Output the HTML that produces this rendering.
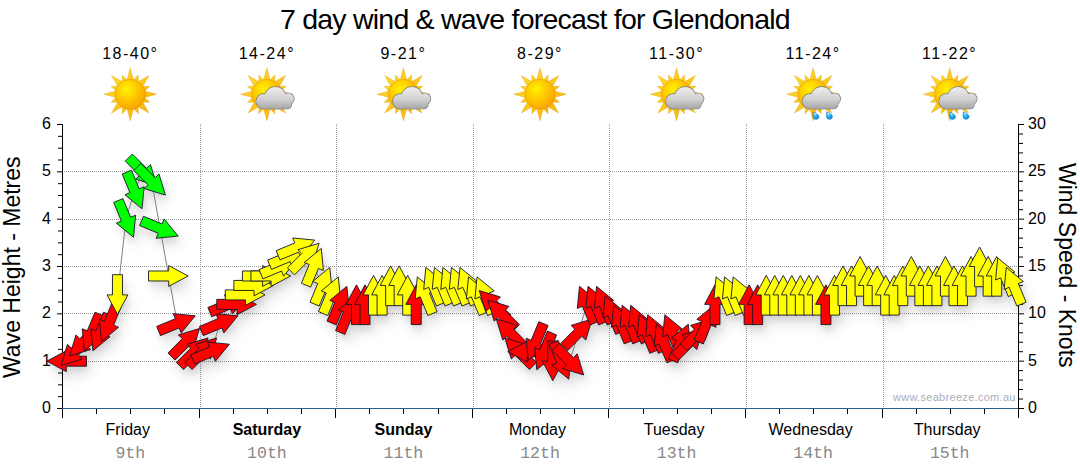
<!DOCTYPE html>
<html><head><meta charset="utf-8">
<style>
html,body{margin:0;padding:0;background:#fff;width:1080px;height:475px;overflow:hidden;position:relative;font-family:"Liberation Sans",sans-serif;}
svg{position:absolute;left:0;top:0;}
.t{position:absolute;left:280px;top:3px;font-size:28.5px;letter-spacing:-0.78px;white-space:nowrap;color:#000;}
.yl{position:absolute;left:20px;width:31px;text-align:right;font-size:16px;line-height:20px;color:#000;}
.yr{position:absolute;left:1028px;font-size:16px;line-height:20px;color:#000;}
.dl{position:absolute;top:420px;width:120px;text-align:center;font-size:16px;line-height:20px;color:#000;}
.dl.b{font-weight:bold;}
.dt{position:absolute;top:444px;width:120px;text-align:center;font-family:"Liberation Mono",monospace;font-size:16.5px;line-height:20px;color:#888;}
.tp{position:absolute;top:44px;width:120px;text-align:center;font-size:16px;letter-spacing:1.5px;line-height:20px;color:#000;}
.ax{position:absolute;font-size:23px;line-height:26px;white-space:nowrap;color:#000;}
.wm{position:absolute;left:893px;top:390px;font-size:11px;line-height:14px;color:#a9aebd;letter-spacing:0.3px;white-space:nowrap;}
</style></head><body>
<div class="t">7 day wind &amp; wave forecast for Glendonald</div>
<div class="yl" style="top:398.0px">0</div>
<div class="yl" style="top:350.7px">1</div>
<div class="yl" style="top:303.3px">2</div>
<div class="yl" style="top:256.0px">3</div>
<div class="yl" style="top:208.7px">4</div>
<div class="yl" style="top:161.3px">5</div>
<div class="yl" style="top:114.0px">6</div>
<div class="yr" style="top:398.0px">0</div>
<div class="yr" style="top:350.7px">5</div>
<div class="yr" style="top:303.3px">10</div>
<div class="yr" style="top:256.0px">15</div>
<div class="yr" style="top:208.7px">20</div>
<div class="yr" style="top:161.3px">25</div>
<div class="yr" style="top:114.0px">30</div>
<div class="dl" style="left:67.8px">Friday</div>
<div class="dt" style="left:70.3px">9th</div>
<div class="tp" style="left:70.3px">18-40°</div>
<div class="dl b" style="left:206.9px">Saturday</div>
<div class="dt" style="left:206.9px">10th</div>
<div class="tp" style="left:206.9px">14-24°</div>
<div class="dl b" style="left:343.4px">Sunday</div>
<div class="dt" style="left:343.4px">11th</div>
<div class="tp" style="left:343.4px">9-21°</div>
<div class="dl" style="left:477.5px">Monday</div>
<div class="dt" style="left:480.0px">12th</div>
<div class="tp" style="left:480.0px">8-29°</div>
<div class="dl" style="left:614.1px">Tuesday</div>
<div class="dt" style="left:616.6px">13th</div>
<div class="tp" style="left:616.6px">11-30°</div>
<div class="dl" style="left:750.6px">Wednesday</div>
<div class="dt" style="left:753.1px">14th</div>
<div class="tp" style="left:753.1px">11-24°</div>
<div class="dl" style="left:887.2px">Thursday</div>
<div class="dt" style="left:889.7px">15th</div>
<div class="tp" style="left:889.7px">11-22°</div>
<div class="ax" style="left:-98px;top:255px;transform:rotate(-90deg);width:220px;text-align:center">Wave Height - Metres</div>
<div class="ax" style="left:965px;top:252px;transform:rotate(90deg);width:204px;text-align:center">Wind Speed - Knots</div>
<div class="wm">www.seabreeze.com.au</div>
<svg width="1080" height="475" viewBox="0 0 1080 475">
<defs>
<filter id="sh" x="-40%" y="-40%" width="180%" height="180%">
<feGaussianBlur in="SourceAlpha" stdDeviation="3" result="b1"/>
<feOffset in="b1" dx="2" dy="5" result="o1"/>
<feComponentTransfer in="o1" result="c1"><feFuncA type="linear" slope="0.09"/></feComponentTransfer>
<feGaussianBlur in="SourceAlpha" stdDeviation="7" result="b2"/>
<feOffset in="b2" dx="4" dy="9" result="o2"/>
<feComponentTransfer in="o2" result="c2"><feFuncA type="linear" slope="0.11"/></feComponentTransfer>
<feMerge><feMergeNode in="c2"/><feMergeNode in="c1"/></feMerge>
</filter>
</defs>
<line x1="62" y1="361.5" x2="1018" y2="361.5" stroke="#9a9a9a" stroke-width="1" stroke-dasharray="1 1"/>
<line x1="62" y1="313.5" x2="1018" y2="313.5" stroke="#9a9a9a" stroke-width="1" stroke-dasharray="1 1"/>
<line x1="62" y1="266.5" x2="1018" y2="266.5" stroke="#9a9a9a" stroke-width="1" stroke-dasharray="1 1"/>
<line x1="62" y1="219.5" x2="1018" y2="219.5" stroke="#9a9a9a" stroke-width="1" stroke-dasharray="1 1"/>
<line x1="62" y1="171.5" x2="1018" y2="171.5" stroke="#9a9a9a" stroke-width="1" stroke-dasharray="1 1"/>
<line x1="200.5" y1="124" x2="200.5" y2="408" stroke="#9a9a9a" stroke-width="1" stroke-dasharray="1 1"/>
<line x1="336.5" y1="124" x2="336.5" y2="408" stroke="#9a9a9a" stroke-width="1" stroke-dasharray="1 1"/>
<line x1="473.5" y1="124" x2="473.5" y2="408" stroke="#9a9a9a" stroke-width="1" stroke-dasharray="1 1"/>
<line x1="609.5" y1="124" x2="609.5" y2="408" stroke="#9a9a9a" stroke-width="1" stroke-dasharray="1 1"/>
<line x1="746.5" y1="124" x2="746.5" y2="408" stroke="#9a9a9a" stroke-width="1" stroke-dasharray="1 1"/>
<line x1="883.5" y1="124" x2="883.5" y2="408" stroke="#9a9a9a" stroke-width="1" stroke-dasharray="1 1"/>
<line x1="62.5" y1="124" x2="62.5" y2="418" stroke="#000" stroke-width="1"/>
<line x1="1018.5" y1="124" x2="1018.5" y2="409" stroke="#000" stroke-width="1"/>
<line x1="57" y1="124.5" x2="62" y2="124.5" stroke="#000" stroke-width="1"/>
<line x1="58" y1="136.33333333333334" x2="62" y2="136.33333333333334" stroke="#000" stroke-width="1"/>
<line x1="58" y1="148.16666666666666" x2="62" y2="148.16666666666666" stroke="#000" stroke-width="1"/>
<line x1="58" y1="160.0" x2="62" y2="160.0" stroke="#000" stroke-width="1"/>
<line x1="57" y1="171.83333333333334" x2="62" y2="171.83333333333334" stroke="#000" stroke-width="1"/>
<line x1="58" y1="183.66666666666669" x2="62" y2="183.66666666666669" stroke="#000" stroke-width="1"/>
<line x1="58" y1="195.5" x2="62" y2="195.5" stroke="#000" stroke-width="1"/>
<line x1="58" y1="207.33333333333334" x2="62" y2="207.33333333333334" stroke="#000" stroke-width="1"/>
<line x1="57" y1="219.16666666666669" x2="62" y2="219.16666666666669" stroke="#000" stroke-width="1"/>
<line x1="58" y1="231.0" x2="62" y2="231.0" stroke="#000" stroke-width="1"/>
<line x1="58" y1="242.83333333333334" x2="62" y2="242.83333333333334" stroke="#000" stroke-width="1"/>
<line x1="58" y1="254.66666666666669" x2="62" y2="254.66666666666669" stroke="#000" stroke-width="1"/>
<line x1="57" y1="266.5" x2="62" y2="266.5" stroke="#000" stroke-width="1"/>
<line x1="58" y1="278.33333333333337" x2="62" y2="278.33333333333337" stroke="#000" stroke-width="1"/>
<line x1="58" y1="290.1666666666667" x2="62" y2="290.1666666666667" stroke="#000" stroke-width="1"/>
<line x1="58" y1="302.0" x2="62" y2="302.0" stroke="#000" stroke-width="1"/>
<line x1="57" y1="313.83333333333337" x2="62" y2="313.83333333333337" stroke="#000" stroke-width="1"/>
<line x1="58" y1="325.6666666666667" x2="62" y2="325.6666666666667" stroke="#000" stroke-width="1"/>
<line x1="58" y1="337.5" x2="62" y2="337.5" stroke="#000" stroke-width="1"/>
<line x1="58" y1="349.33333333333337" x2="62" y2="349.33333333333337" stroke="#000" stroke-width="1"/>
<line x1="57" y1="361.1666666666667" x2="62" y2="361.1666666666667" stroke="#000" stroke-width="1"/>
<line x1="58" y1="373.0" x2="62" y2="373.0" stroke="#000" stroke-width="1"/>
<line x1="58" y1="384.83333333333337" x2="62" y2="384.83333333333337" stroke="#000" stroke-width="1"/>
<line x1="58" y1="396.6666666666667" x2="62" y2="396.6666666666667" stroke="#000" stroke-width="1"/>
<line x1="57" y1="408.5" x2="62" y2="408.5" stroke="#000" stroke-width="1"/>
<line x1="1019" y1="124.5" x2="1024" y2="124.5" stroke="#000" stroke-width="1"/>
<line x1="1019" y1="133.96666666666667" x2="1023" y2="133.96666666666667" stroke="#000" stroke-width="1"/>
<line x1="1019" y1="143.43333333333334" x2="1023" y2="143.43333333333334" stroke="#000" stroke-width="1"/>
<line x1="1019" y1="152.9" x2="1023" y2="152.9" stroke="#000" stroke-width="1"/>
<line x1="1019" y1="162.36666666666667" x2="1023" y2="162.36666666666667" stroke="#000" stroke-width="1"/>
<line x1="1019" y1="171.83333333333334" x2="1024" y2="171.83333333333334" stroke="#000" stroke-width="1"/>
<line x1="1019" y1="181.3" x2="1023" y2="181.3" stroke="#000" stroke-width="1"/>
<line x1="1019" y1="190.76666666666665" x2="1023" y2="190.76666666666665" stroke="#000" stroke-width="1"/>
<line x1="1019" y1="200.23333333333335" x2="1023" y2="200.23333333333335" stroke="#000" stroke-width="1"/>
<line x1="1019" y1="209.7" x2="1023" y2="209.7" stroke="#000" stroke-width="1"/>
<line x1="1019" y1="219.16666666666669" x2="1024" y2="219.16666666666669" stroke="#000" stroke-width="1"/>
<line x1="1019" y1="228.63333333333333" x2="1023" y2="228.63333333333333" stroke="#000" stroke-width="1"/>
<line x1="1019" y1="238.1" x2="1023" y2="238.1" stroke="#000" stroke-width="1"/>
<line x1="1019" y1="247.56666666666666" x2="1023" y2="247.56666666666666" stroke="#000" stroke-width="1"/>
<line x1="1019" y1="257.0333333333333" x2="1023" y2="257.0333333333333" stroke="#000" stroke-width="1"/>
<line x1="1019" y1="266.5" x2="1024" y2="266.5" stroke="#000" stroke-width="1"/>
<line x1="1019" y1="275.9666666666667" x2="1023" y2="275.9666666666667" stroke="#000" stroke-width="1"/>
<line x1="1019" y1="285.43333333333334" x2="1023" y2="285.43333333333334" stroke="#000" stroke-width="1"/>
<line x1="1019" y1="294.9" x2="1023" y2="294.9" stroke="#000" stroke-width="1"/>
<line x1="1019" y1="304.3666666666667" x2="1023" y2="304.3666666666667" stroke="#000" stroke-width="1"/>
<line x1="1019" y1="313.83333333333337" x2="1024" y2="313.83333333333337" stroke="#000" stroke-width="1"/>
<line x1="1019" y1="323.3" x2="1023" y2="323.3" stroke="#000" stroke-width="1"/>
<line x1="1019" y1="332.76666666666665" x2="1023" y2="332.76666666666665" stroke="#000" stroke-width="1"/>
<line x1="1019" y1="342.23333333333335" x2="1023" y2="342.23333333333335" stroke="#000" stroke-width="1"/>
<line x1="1019" y1="351.7" x2="1023" y2="351.7" stroke="#000" stroke-width="1"/>
<line x1="1019" y1="361.16666666666663" x2="1024" y2="361.16666666666663" stroke="#000" stroke-width="1"/>
<line x1="1019" y1="370.6333333333333" x2="1023" y2="370.6333333333333" stroke="#000" stroke-width="1"/>
<line x1="1019" y1="380.1" x2="1023" y2="380.1" stroke="#000" stroke-width="1"/>
<line x1="1019" y1="389.56666666666666" x2="1023" y2="389.56666666666666" stroke="#000" stroke-width="1"/>
<line x1="1019" y1="399.03333333333336" x2="1023" y2="399.03333333333336" stroke="#000" stroke-width="1"/>
<line x1="1019" y1="408.5" x2="1024" y2="408.5" stroke="#000" stroke-width="1"/>
<line x1="96.5" y1="408" x2="96.5" y2="414" stroke="#000" stroke-width="1"/>
<line x1="130.5" y1="408" x2="130.5" y2="414" stroke="#000" stroke-width="1"/>
<line x1="164.5" y1="408" x2="164.5" y2="414" stroke="#000" stroke-width="1"/>
<line x1="199.5" y1="408" x2="199.5" y2="418" stroke="#000" stroke-width="1"/>
<line x1="233.5" y1="408" x2="233.5" y2="414" stroke="#000" stroke-width="1"/>
<line x1="267.5" y1="408" x2="267.5" y2="414" stroke="#000" stroke-width="1"/>
<line x1="301.5" y1="408" x2="301.5" y2="414" stroke="#000" stroke-width="1"/>
<line x1="335.5" y1="408" x2="335.5" y2="418" stroke="#000" stroke-width="1"/>
<line x1="369.5" y1="408" x2="369.5" y2="414" stroke="#000" stroke-width="1"/>
<line x1="403.5" y1="408" x2="403.5" y2="414" stroke="#000" stroke-width="1"/>
<line x1="438.5" y1="408" x2="438.5" y2="414" stroke="#000" stroke-width="1"/>
<line x1="472.5" y1="408" x2="472.5" y2="418" stroke="#000" stroke-width="1"/>
<line x1="506.5" y1="408" x2="506.5" y2="414" stroke="#000" stroke-width="1"/>
<line x1="540.5" y1="408" x2="540.5" y2="414" stroke="#000" stroke-width="1"/>
<line x1="574.5" y1="408" x2="574.5" y2="414" stroke="#000" stroke-width="1"/>
<line x1="608.5" y1="408" x2="608.5" y2="418" stroke="#000" stroke-width="1"/>
<line x1="643.5" y1="408" x2="643.5" y2="414" stroke="#000" stroke-width="1"/>
<line x1="677.5" y1="408" x2="677.5" y2="414" stroke="#000" stroke-width="1"/>
<line x1="711.5" y1="408" x2="711.5" y2="414" stroke="#000" stroke-width="1"/>
<line x1="745.5" y1="408" x2="745.5" y2="418" stroke="#000" stroke-width="1"/>
<line x1="779.5" y1="408" x2="779.5" y2="414" stroke="#000" stroke-width="1"/>
<line x1="813.5" y1="408" x2="813.5" y2="414" stroke="#000" stroke-width="1"/>
<line x1="847.5" y1="408" x2="847.5" y2="414" stroke="#000" stroke-width="1"/>
<line x1="882.5" y1="408" x2="882.5" y2="418" stroke="#000" stroke-width="1"/>
<line x1="916.5" y1="408" x2="916.5" y2="414" stroke="#000" stroke-width="1"/>
<line x1="950.5" y1="408" x2="950.5" y2="414" stroke="#000" stroke-width="1"/>
<line x1="984.5" y1="408" x2="984.5" y2="414" stroke="#000" stroke-width="1"/>
<line x1="1018.5" y1="408" x2="1018.5" y2="418" stroke="#000" stroke-width="1"/>
<line x1="62" y1="408.5" x2="1018" y2="408.5" stroke="#2b5d8c" stroke-width="1.2"/>
<defs>
<radialGradient id="sunG" cx="0.38" cy="0.33" r="0.75">
<stop offset="0" stop-color="#fff200"/><stop offset="0.5" stop-color="#ffc600"/><stop offset="1" stop-color="#f59e00"/>
</radialGradient>
<linearGradient id="rayG" x1="0" y1="0" x2="1" y2="1">
<stop offset="0" stop-color="#ffe030"/><stop offset="1" stop-color="#f7ae00"/>
</linearGradient>
<linearGradient id="cloudG" gradientUnits="userSpaceOnUse" x1="0" y1="-7.5" x2="0" y2="14.5">
<stop offset="0" stop-color="#eeeeee"/><stop offset="0.55" stop-color="#d2d2d2"/><stop offset="1" stop-color="#a6a6a6"/>
</linearGradient>
<radialGradient id="dropG" cx="0.35" cy="0.3" r="0.8">
<stop offset="0" stop-color="#bff0ff"/><stop offset="0.35" stop-color="#2cb8f2"/><stop offset="1" stop-color="#0b84d6"/>
</radialGradient>
</defs>
<g transform="translate(130.29,94.3)"><path d="M0.00,-26.50 L-3.80,-12.43 L3.80,-12.43 Z M8.04,-19.40 L1.70,-12.89 L7.91,-10.31 Z M18.74,-18.74 L6.10,-11.48 L11.48,-6.10 Z M19.40,-8.04 L10.31,-7.91 L12.89,-1.70 Z M26.50,0.00 L12.43,-3.80 L12.43,3.80 Z M19.40,8.04 L12.89,1.70 L10.31,7.91 Z M18.74,18.74 L11.48,6.10 L6.10,11.48 Z M8.04,19.40 L7.91,10.31 L1.70,12.89 Z M0.00,26.50 L3.80,12.43 L-3.80,12.43 Z M-8.04,19.40 L-1.70,12.89 L-7.91,10.31 Z M-18.74,18.74 L-6.10,11.48 L-11.48,6.10 Z M-19.40,8.04 L-10.31,7.91 L-12.89,1.70 Z M-26.50,0.00 L-12.43,3.80 L-12.43,-3.80 Z M-19.40,-8.04 L-12.89,-1.70 L-10.31,-7.91 Z M-18.74,-18.74 L-11.48,-6.10 L-6.10,-11.48 Z M-8.04,-19.40 L-7.91,-10.31 L-1.70,-12.89 Z" fill="url(#rayG)" stroke="#d98c00" stroke-width="0.5" stroke-opacity="0.6"/><circle r="15" fill="url(#sunG)" stroke="#e08a00" stroke-width="0.6" stroke-opacity="0.7"/></g>
<g transform="translate(266.86,94.3)"><path d="M0.00,-26.50 L-3.80,-12.43 L3.80,-12.43 Z M8.04,-19.40 L1.70,-12.89 L7.91,-10.31 Z M18.74,-18.74 L6.10,-11.48 L11.48,-6.10 Z M19.40,-8.04 L10.31,-7.91 L12.89,-1.70 Z M26.50,0.00 L12.43,-3.80 L12.43,3.80 Z M19.40,8.04 L12.89,1.70 L10.31,7.91 Z M18.74,18.74 L11.48,6.10 L6.10,11.48 Z M8.04,19.40 L7.91,10.31 L1.70,12.89 Z M0.00,26.50 L3.80,12.43 L-3.80,12.43 Z M-8.04,19.40 L-1.70,12.89 L-7.91,10.31 Z M-18.74,18.74 L-6.10,11.48 L-11.48,6.10 Z M-19.40,8.04 L-10.31,7.91 L-12.89,1.70 Z M-26.50,0.00 L-12.43,3.80 L-12.43,-3.80 Z M-19.40,-8.04 L-12.89,-1.70 L-10.31,-7.91 Z M-18.74,-18.74 L-11.48,-6.10 L-6.10,-11.48 Z M-8.04,-19.40 L-7.91,-10.31 L-1.70,-12.89 Z" fill="url(#rayG)" stroke="#d98c00" stroke-width="0.5" stroke-opacity="0.6"/><circle r="15" fill="url(#sunG)" stroke="#e08a00" stroke-width="0.6" stroke-opacity="0.7"/><g fill="#7a7a7a" stroke="#7a7a7a" stroke-width="1.3"><circle cx="-3.2" cy="7" r="7.4"/><circle cx="8.5" cy="3.5" r="10.8"/><circle cx="21.5" cy="4.6" r="5.6"/><path d="M-3.2,7 H24.5 V10 Q24.5,14.4 19.5,14.4 H-3.2 Z"/></g><g fill="url(#cloudG)"><circle cx="-3.2" cy="7" r="7.4"/><circle cx="8.5" cy="3.5" r="10.8"/><circle cx="21.5" cy="4.6" r="5.6"/><path d="M-3.2,7 H24.5 V10 Q24.5,14.4 19.5,14.4 H-3.2 Z"/></g></g>
<g transform="translate(403.43,94.3)"><path d="M0.00,-26.50 L-3.80,-12.43 L3.80,-12.43 Z M8.04,-19.40 L1.70,-12.89 L7.91,-10.31 Z M18.74,-18.74 L6.10,-11.48 L11.48,-6.10 Z M19.40,-8.04 L10.31,-7.91 L12.89,-1.70 Z M26.50,0.00 L12.43,-3.80 L12.43,3.80 Z M19.40,8.04 L12.89,1.70 L10.31,7.91 Z M18.74,18.74 L11.48,6.10 L6.10,11.48 Z M8.04,19.40 L7.91,10.31 L1.70,12.89 Z M0.00,26.50 L3.80,12.43 L-3.80,12.43 Z M-8.04,19.40 L-1.70,12.89 L-7.91,10.31 Z M-18.74,18.74 L-6.10,11.48 L-11.48,6.10 Z M-19.40,8.04 L-10.31,7.91 L-12.89,1.70 Z M-26.50,0.00 L-12.43,3.80 L-12.43,-3.80 Z M-19.40,-8.04 L-12.89,-1.70 L-10.31,-7.91 Z M-18.74,-18.74 L-11.48,-6.10 L-6.10,-11.48 Z M-8.04,-19.40 L-7.91,-10.31 L-1.70,-12.89 Z" fill="url(#rayG)" stroke="#d98c00" stroke-width="0.5" stroke-opacity="0.6"/><circle r="15" fill="url(#sunG)" stroke="#e08a00" stroke-width="0.6" stroke-opacity="0.7"/><g fill="#7a7a7a" stroke="#7a7a7a" stroke-width="1.3"><circle cx="-3.2" cy="7" r="7.4"/><circle cx="8.5" cy="3.5" r="10.8"/><circle cx="21.5" cy="4.6" r="5.6"/><path d="M-3.2,7 H24.5 V10 Q24.5,14.4 19.5,14.4 H-3.2 Z"/></g><g fill="url(#cloudG)"><circle cx="-3.2" cy="7" r="7.4"/><circle cx="8.5" cy="3.5" r="10.8"/><circle cx="21.5" cy="4.6" r="5.6"/><path d="M-3.2,7 H24.5 V10 Q24.5,14.4 19.5,14.4 H-3.2 Z"/></g></g>
<g transform="translate(540.00,94.3)"><path d="M0.00,-26.50 L-3.80,-12.43 L3.80,-12.43 Z M8.04,-19.40 L1.70,-12.89 L7.91,-10.31 Z M18.74,-18.74 L6.10,-11.48 L11.48,-6.10 Z M19.40,-8.04 L10.31,-7.91 L12.89,-1.70 Z M26.50,0.00 L12.43,-3.80 L12.43,3.80 Z M19.40,8.04 L12.89,1.70 L10.31,7.91 Z M18.74,18.74 L11.48,6.10 L6.10,11.48 Z M8.04,19.40 L7.91,10.31 L1.70,12.89 Z M0.00,26.50 L3.80,12.43 L-3.80,12.43 Z M-8.04,19.40 L-1.70,12.89 L-7.91,10.31 Z M-18.74,18.74 L-6.10,11.48 L-11.48,6.10 Z M-19.40,8.04 L-10.31,7.91 L-12.89,1.70 Z M-26.50,0.00 L-12.43,3.80 L-12.43,-3.80 Z M-19.40,-8.04 L-12.89,-1.70 L-10.31,-7.91 Z M-18.74,-18.74 L-11.48,-6.10 L-6.10,-11.48 Z M-8.04,-19.40 L-7.91,-10.31 L-1.70,-12.89 Z" fill="url(#rayG)" stroke="#d98c00" stroke-width="0.5" stroke-opacity="0.6"/><circle r="15" fill="url(#sunG)" stroke="#e08a00" stroke-width="0.6" stroke-opacity="0.7"/></g>
<g transform="translate(676.57,94.3)"><path d="M0.00,-26.50 L-3.80,-12.43 L3.80,-12.43 Z M8.04,-19.40 L1.70,-12.89 L7.91,-10.31 Z M18.74,-18.74 L6.10,-11.48 L11.48,-6.10 Z M19.40,-8.04 L10.31,-7.91 L12.89,-1.70 Z M26.50,0.00 L12.43,-3.80 L12.43,3.80 Z M19.40,8.04 L12.89,1.70 L10.31,7.91 Z M18.74,18.74 L11.48,6.10 L6.10,11.48 Z M8.04,19.40 L7.91,10.31 L1.70,12.89 Z M0.00,26.50 L3.80,12.43 L-3.80,12.43 Z M-8.04,19.40 L-1.70,12.89 L-7.91,10.31 Z M-18.74,18.74 L-6.10,11.48 L-11.48,6.10 Z M-19.40,8.04 L-10.31,7.91 L-12.89,1.70 Z M-26.50,0.00 L-12.43,3.80 L-12.43,-3.80 Z M-19.40,-8.04 L-12.89,-1.70 L-10.31,-7.91 Z M-18.74,-18.74 L-11.48,-6.10 L-6.10,-11.48 Z M-8.04,-19.40 L-7.91,-10.31 L-1.70,-12.89 Z" fill="url(#rayG)" stroke="#d98c00" stroke-width="0.5" stroke-opacity="0.6"/><circle r="15" fill="url(#sunG)" stroke="#e08a00" stroke-width="0.6" stroke-opacity="0.7"/><g fill="#7a7a7a" stroke="#7a7a7a" stroke-width="1.3"><circle cx="-3.2" cy="7" r="7.4"/><circle cx="8.5" cy="3.5" r="10.8"/><circle cx="21.5" cy="4.6" r="5.6"/><path d="M-3.2,7 H24.5 V10 Q24.5,14.4 19.5,14.4 H-3.2 Z"/></g><g fill="url(#cloudG)"><circle cx="-3.2" cy="7" r="7.4"/><circle cx="8.5" cy="3.5" r="10.8"/><circle cx="21.5" cy="4.6" r="5.6"/><path d="M-3.2,7 H24.5 V10 Q24.5,14.4 19.5,14.4 H-3.2 Z"/></g></g>
<g transform="translate(813.14,94.3)"><path d="M0.00,-26.50 L-3.80,-12.43 L3.80,-12.43 Z M8.04,-19.40 L1.70,-12.89 L7.91,-10.31 Z M18.74,-18.74 L6.10,-11.48 L11.48,-6.10 Z M19.40,-8.04 L10.31,-7.91 L12.89,-1.70 Z M26.50,0.00 L12.43,-3.80 L12.43,3.80 Z M19.40,8.04 L12.89,1.70 L10.31,7.91 Z M18.74,18.74 L11.48,6.10 L6.10,11.48 Z M8.04,19.40 L7.91,10.31 L1.70,12.89 Z M0.00,26.50 L3.80,12.43 L-3.80,12.43 Z M-8.04,19.40 L-1.70,12.89 L-7.91,10.31 Z M-18.74,18.74 L-6.10,11.48 L-11.48,6.10 Z M-19.40,8.04 L-10.31,7.91 L-12.89,1.70 Z M-26.50,0.00 L-12.43,3.80 L-12.43,-3.80 Z M-19.40,-8.04 L-12.89,-1.70 L-10.31,-7.91 Z M-18.74,-18.74 L-11.48,-6.10 L-6.10,-11.48 Z M-8.04,-19.40 L-7.91,-10.31 L-1.70,-12.89 Z" fill="url(#rayG)" stroke="#d98c00" stroke-width="0.5" stroke-opacity="0.6"/><circle r="15" fill="url(#sunG)" stroke="#e08a00" stroke-width="0.6" stroke-opacity="0.7"/><path transform="translate(2.8,21.2)" d="M-2.6,-3.8 C-1,-2.8 3.1,-1 3.1,1.1 C3.1,2.9 1.7,4 0,4 C-1.7,4 -3.1,2.9 -3.1,1.1 C-3.1,-0.8 -2.8,-2.2 -2.6,-3.8 Z" fill="url(#dropG)" stroke="#0a70b8" stroke-width="0.4"/><path transform="translate(16.3,21)" d="M-2.6,-3.8 C-1,-2.8 3.1,-1 3.1,1.1 C3.1,2.9 1.7,4 0,4 C-1.7,4 -3.1,2.9 -3.1,1.1 C-3.1,-0.8 -2.8,-2.2 -2.6,-3.8 Z" fill="url(#dropG)" stroke="#0a70b8" stroke-width="0.4"/><g fill="#7a7a7a" stroke="#7a7a7a" stroke-width="1.3"><circle cx="-3.2" cy="7" r="7.4"/><circle cx="8.5" cy="3.5" r="10.8"/><circle cx="21.5" cy="4.6" r="5.6"/><path d="M-3.2,7 H24.5 V10 Q24.5,14.4 19.5,14.4 H-3.2 Z"/></g><g fill="url(#cloudG)"><circle cx="-3.2" cy="7" r="7.4"/><circle cx="8.5" cy="3.5" r="10.8"/><circle cx="21.5" cy="4.6" r="5.6"/><path d="M-3.2,7 H24.5 V10 Q24.5,14.4 19.5,14.4 H-3.2 Z"/></g></g>
<g transform="translate(949.71,94.3)"><path d="M0.00,-26.50 L-3.80,-12.43 L3.80,-12.43 Z M8.04,-19.40 L1.70,-12.89 L7.91,-10.31 Z M18.74,-18.74 L6.10,-11.48 L11.48,-6.10 Z M19.40,-8.04 L10.31,-7.91 L12.89,-1.70 Z M26.50,0.00 L12.43,-3.80 L12.43,3.80 Z M19.40,8.04 L12.89,1.70 L10.31,7.91 Z M18.74,18.74 L11.48,6.10 L6.10,11.48 Z M8.04,19.40 L7.91,10.31 L1.70,12.89 Z M0.00,26.50 L3.80,12.43 L-3.80,12.43 Z M-8.04,19.40 L-1.70,12.89 L-7.91,10.31 Z M-18.74,18.74 L-6.10,11.48 L-11.48,6.10 Z M-19.40,8.04 L-10.31,7.91 L-12.89,1.70 Z M-26.50,0.00 L-12.43,3.80 L-12.43,-3.80 Z M-19.40,-8.04 L-12.89,-1.70 L-10.31,-7.91 Z M-18.74,-18.74 L-11.48,-6.10 L-6.10,-11.48 Z M-8.04,-19.40 L-7.91,-10.31 L-1.70,-12.89 Z" fill="url(#rayG)" stroke="#d98c00" stroke-width="0.5" stroke-opacity="0.6"/><circle r="15" fill="url(#sunG)" stroke="#e08a00" stroke-width="0.6" stroke-opacity="0.7"/><path transform="translate(2.8,21.2)" d="M-2.6,-3.8 C-1,-2.8 3.1,-1 3.1,1.1 C3.1,2.9 1.7,4 0,4 C-1.7,4 -3.1,2.9 -3.1,1.1 C-3.1,-0.8 -2.8,-2.2 -2.6,-3.8 Z" fill="url(#dropG)" stroke="#0a70b8" stroke-width="0.4"/><path transform="translate(16.3,21)" d="M-2.6,-3.8 C-1,-2.8 3.1,-1 3.1,1.1 C3.1,2.9 1.7,4 0,4 C-1.7,4 -3.1,2.9 -3.1,1.1 C-3.1,-0.8 -2.8,-2.2 -2.6,-3.8 Z" fill="url(#dropG)" stroke="#0a70b8" stroke-width="0.4"/><g fill="#7a7a7a" stroke="#7a7a7a" stroke-width="1.3"><circle cx="-3.2" cy="7" r="7.4"/><circle cx="8.5" cy="3.5" r="10.8"/><circle cx="21.5" cy="4.6" r="5.6"/><path d="M-3.2,7 H24.5 V10 Q24.5,14.4 19.5,14.4 H-3.2 Z"/></g><g fill="url(#cloudG)"><circle cx="-3.2" cy="7" r="7.4"/><circle cx="8.5" cy="3.5" r="10.8"/><circle cx="21.5" cy="4.6" r="5.6"/><path d="M-3.2,7 H24.5 V10 Q24.5,14.4 19.5,14.4 H-3.2 Z"/></g></g>
<g filter="url(#sh)"><polygon points="86.47,366.17 66.27,366.17 66.27,371.57 46.77,361.17 66.27,350.77 66.27,356.17 86.47,356.17" fill="#ff0000"/>
<polygon points="92.62,340.95 78.34,355.24 82.16,359.05 61.01,365.49 67.45,344.35 71.27,348.16 85.55,333.88" fill="#ff0000"/>
<polygon points="101.16,331.49 86.87,345.77 90.69,349.59 69.55,356.02 75.99,334.88 79.80,338.70 94.09,324.41" fill="#ff0000"/>
<polygon points="104.22,316.02 96.49,334.68 101.48,336.75 84.41,350.78 82.27,328.79 87.26,330.85 94.99,312.19" fill="#ff0000"/>
<polygon points="112.76,316.02 105.03,334.68 110.02,336.75 92.95,350.78 90.80,328.79 95.79,330.85 103.52,312.19" fill="#ff0000"/>
<polygon points="121.30,306.55 113.57,325.21 118.55,327.28 101.48,341.32 99.34,319.32 104.33,321.39 112.06,302.72" fill="#ff0000"/>
<polygon points="122.48,274.70 122.48,294.90 127.88,294.90 117.48,314.40 107.08,294.90 112.48,294.90 112.48,274.70" fill="#ffff00"/>
<polygon points="122.91,198.59 130.64,217.25 135.63,215.19 133.48,237.18 116.41,223.15 121.40,221.08 113.67,202.42" fill="#00ff00"/>
<polygon points="131.44,170.19 139.17,188.85 144.16,186.79 142.02,208.78 124.95,194.75 129.93,192.68 122.20,174.02" fill="#00ff00"/>
<polygon points="132.34,154.01 146.62,168.30 150.44,164.48 156.88,185.62 135.74,179.19 139.55,175.37 125.27,161.09" fill="#00ff00"/>
<polygon points="140.88,163.48 155.16,177.76 158.98,173.95 165.41,195.09 144.27,188.65 148.09,184.84 133.81,170.55" fill="#00ff00"/>
<polygon points="143.41,216.28 162.07,224.01 164.14,219.02 178.18,236.10 156.18,238.24 158.25,233.25 139.58,225.52" fill="#00ff00"/>
<polygon points="148.50,270.97 168.70,270.97 168.70,265.57 188.20,275.97 168.70,286.37 168.70,280.97 148.50,280.97" fill="#ffff00"/>
<polygon points="156.66,326.41 175.32,318.68 173.25,313.69 195.25,315.84 181.21,332.91 179.15,327.92 160.48,335.65" fill="#ff0000"/>
<polygon points="167.95,352.98 182.23,338.70 178.41,334.88 199.56,328.44 193.12,349.59 189.30,345.77 175.02,360.05" fill="#ff0000"/>
<polygon points="176.48,362.45 190.77,348.16 186.95,344.35 208.09,337.91 201.66,359.05 197.84,355.24 183.56,369.52" fill="#ff0000"/>
<polygon points="185.02,362.45 199.30,348.16 195.49,344.35 216.63,337.91 210.19,359.05 206.37,355.24 192.09,369.52" fill="#ff0000"/>
<polygon points="190.80,354.81 209.46,347.08 207.40,342.09 229.39,344.24 215.35,361.31 213.29,356.32 194.63,364.05" fill="#ff0000"/>
<polygon points="199.33,326.41 218.00,318.68 215.93,313.69 237.93,315.84 223.89,332.91 221.82,327.92 203.16,335.65" fill="#ff0000"/>
<polygon points="207.87,307.48 226.53,299.75 224.47,294.76 246.46,296.90 232.43,313.98 230.36,308.99 211.70,316.72" fill="#ff0000"/>
<polygon points="216.78,299.37 236.98,299.37 236.98,293.97 256.48,304.37 236.98,314.77 236.98,309.37 216.78,309.37" fill="#ff0000"/>
<polygon points="225.32,289.90 245.52,289.90 245.52,284.50 265.02,294.90 245.52,305.30 245.52,299.90 225.32,299.90" fill="#ffff00"/>
<polygon points="233.85,280.43 254.05,280.43 254.05,275.03 273.55,285.43 254.05,295.83 254.05,290.43 233.85,290.43" fill="#ffff00"/>
<polygon points="242.39,270.97 262.59,270.97 262.59,265.57 282.09,275.97 262.59,286.37 262.59,280.97 242.39,280.97" fill="#ffff00"/>
<polygon points="250.93,270.97 271.12,270.97 271.12,265.57 290.62,275.97 271.12,286.37 271.12,280.97 250.93,280.97" fill="#ffff00"/>
<polygon points="259.08,269.61 277.75,261.88 275.68,256.89 297.68,259.04 283.64,276.11 281.57,271.12 262.91,278.85" fill="#ffff00"/>
<polygon points="267.62,260.14 286.28,252.41 284.22,247.42 306.21,249.57 292.18,266.64 290.11,261.65 271.45,269.38" fill="#ffff00"/>
<polygon points="276.16,250.68 294.82,242.95 292.75,237.96 314.75,240.10 300.71,257.18 298.65,252.19 279.98,259.92" fill="#ffff00"/>
<polygon points="287.45,267.78 301.73,253.50 297.91,249.68 319.06,243.24 312.62,264.39 308.80,260.57 294.52,274.85" fill="#ffff00"/>
<polygon points="301.45,283.25 309.18,264.59 304.20,262.52 321.27,248.48 323.41,270.48 318.42,268.41 310.69,287.08" fill="#ffff00"/>
<polygon points="309.99,302.18 317.72,283.52 312.73,281.45 329.80,267.42 331.95,289.41 326.96,287.35 319.23,306.01" fill="#ffff00"/>
<polygon points="318.53,311.65 326.26,292.99 321.27,290.92 338.34,276.88 340.48,298.88 335.49,296.81 327.76,315.48" fill="#ffff00"/>
<polygon points="327.06,321.12 334.79,302.45 329.80,300.39 346.87,286.35 349.02,308.35 344.03,306.28 336.30,324.94" fill="#ff0000"/>
<polygon points="335.60,330.58 343.33,311.92 338.34,309.85 355.41,295.82 357.55,317.81 352.57,315.75 344.84,334.41" fill="#ff0000"/>
<polygon points="351.48,324.57 351.48,304.37 346.08,304.37 356.48,284.87 366.88,304.37 361.48,304.37 361.48,324.57" fill="#ff0000"/>
<polygon points="360.02,324.57 360.02,304.37 354.62,304.37 365.02,284.87 375.42,304.37 370.02,304.37 370.02,324.57" fill="#ff0000"/>
<polygon points="368.55,315.10 368.55,294.90 363.15,294.90 373.55,275.40 383.95,294.90 378.55,294.90 378.55,315.10" fill="#ffff00"/>
<polygon points="377.09,315.10 377.09,294.90 371.69,294.90 382.09,275.40 392.49,294.90 387.09,294.90 387.09,315.10" fill="#ffff00"/>
<polygon points="385.63,305.63 385.63,285.43 380.23,285.43 390.63,265.93 401.03,285.43 395.63,285.43 395.63,305.63" fill="#ffff00"/>
<polygon points="394.16,305.63 394.16,285.43 388.76,285.43 399.16,265.93 409.56,285.43 404.16,285.43 404.16,305.63" fill="#ffff00"/>
<polygon points="402.70,315.10 402.70,294.90 397.30,294.90 407.70,275.40 418.10,294.90 412.70,294.90 412.70,315.10" fill="#ffff00"/>
<polygon points="411.23,324.57 411.23,304.37 405.83,304.37 416.23,284.87 426.63,304.37 421.23,304.37 421.23,324.57" fill="#ff0000"/>
<polygon points="427.88,315.48 420.15,296.81 415.16,298.88 417.31,276.88 434.38,290.92 429.39,292.99 437.12,311.65" fill="#ffff00"/>
<polygon points="436.41,306.01 428.68,287.35 423.70,289.41 425.84,267.42 442.91,281.45 437.92,283.52 445.65,302.18" fill="#ffff00"/>
<polygon points="444.95,306.01 437.22,287.35 432.23,289.41 434.38,267.42 451.45,281.45 446.46,283.52 454.19,302.18" fill="#ffff00"/>
<polygon points="453.49,306.01 445.76,287.35 440.77,289.41 442.91,267.42 459.98,281.45 454.99,283.52 462.72,302.18" fill="#ffff00"/>
<polygon points="462.02,306.01 454.29,287.35 449.30,289.41 451.45,267.42 468.52,281.45 463.53,283.52 471.26,302.18" fill="#ffff00"/>
<polygon points="470.56,306.01 462.83,287.35 457.84,289.41 459.98,267.42 477.05,281.45 472.07,283.52 479.80,302.18" fill="#ffff00"/>
<polygon points="479.09,315.48 471.36,296.81 466.37,298.88 468.52,276.88 485.59,290.92 480.60,292.99 488.33,311.65" fill="#ffff00"/>
<polygon points="487.63,315.48 479.90,296.81 474.91,298.88 477.06,276.88 494.13,290.92 489.14,292.99 496.87,311.65" fill="#ffff00"/>
<polygon points="503.80,322.19 489.52,307.90 485.70,311.72 479.26,290.58 500.41,297.01 496.59,300.83 510.87,315.11" fill="#ff0000"/>
<polygon points="512.34,331.65 498.05,317.37 494.24,321.19 487.80,300.04 508.94,306.48 505.12,310.30 519.41,324.58" fill="#ff0000"/>
<polygon points="520.87,350.59 506.59,336.30 502.77,340.12 496.34,318.98 517.48,325.41 513.66,329.23 527.94,343.51" fill="#ff0000"/>
<polygon points="529.41,369.52 515.13,355.24 511.31,359.05 504.87,337.91 526.01,344.35 522.20,348.16 536.48,362.45" fill="#ff0000"/>
<polygon points="547.40,356.70 527.20,356.70 527.20,362.10 507.70,351.70 527.20,341.30 527.20,346.70 547.40,346.70" fill="#ff0000"/>
<polygon points="548.08,325.48 540.35,344.15 545.34,346.21 528.27,360.25 526.12,338.25 531.11,340.32 538.84,321.66" fill="#ff0000"/>
<polygon points="556.62,334.95 548.89,353.61 553.88,355.68 536.81,369.72 534.66,347.72 539.65,349.79 547.38,331.12" fill="#ff0000"/>
<polygon points="557.80,340.97 557.80,361.17 563.20,361.17 552.80,380.67 542.40,361.17 547.80,361.17 547.80,340.97" fill="#ff0000"/>
<polygon points="558.23,340.59 565.96,359.25 570.95,357.19 568.80,379.18 551.73,365.15 556.72,363.08 548.99,344.42" fill="#ff0000"/>
<polygon points="559.13,343.35 573.41,357.63 577.23,353.81 583.66,374.96 562.52,368.52 566.34,364.70 552.06,350.42" fill="#ff0000"/>
<polygon points="560.59,343.51 574.88,329.23 571.06,325.41 592.20,318.98 585.76,340.12 581.95,336.30 567.66,350.59" fill="#ff0000"/>
<polygon points="590.06,324.94 582.33,306.28 577.34,308.35 579.48,286.35 596.55,300.39 591.57,302.45 599.30,321.12" fill="#ff0000"/>
<polygon points="598.59,324.94 590.86,306.28 585.87,308.35 588.02,286.35 605.09,300.39 600.10,302.45 607.83,321.12" fill="#ff0000"/>
<polygon points="607.13,324.94 599.40,306.28 594.41,308.35 596.56,286.35 613.63,300.39 608.64,302.45 616.37,321.12" fill="#ff0000"/>
<polygon points="615.66,334.41 607.93,315.75 602.95,317.81 605.09,295.82 622.16,309.85 617.17,311.92 624.90,330.58" fill="#ff0000"/>
<polygon points="624.20,343.88 616.47,325.21 611.48,327.28 613.63,305.28 630.70,319.32 625.71,321.39 633.44,340.05" fill="#ff0000"/>
<polygon points="632.74,343.88 625.01,325.21 620.02,327.28 622.16,305.28 639.23,319.32 634.24,321.39 641.97,340.05" fill="#ff0000"/>
<polygon points="641.27,343.88 633.54,325.21 628.55,327.28 630.70,305.28 647.77,319.32 642.78,321.39 650.51,340.05" fill="#ff0000"/>
<polygon points="649.81,353.34 642.08,334.68 637.09,336.75 639.23,314.75 656.30,328.79 651.32,330.85 659.05,349.52" fill="#ff0000"/>
<polygon points="658.34,353.34 650.61,334.68 645.62,336.75 647.77,314.75 664.84,328.79 659.85,330.85 667.58,349.52" fill="#ff0000"/>
<polygon points="666.88,362.81 659.15,344.15 654.16,346.21 656.31,324.22 673.38,338.25 668.39,340.32 676.12,358.98" fill="#ff0000"/>
<polygon points="675.41,353.34 667.68,334.68 662.70,336.75 664.84,314.75 681.91,328.79 676.92,330.85 684.65,349.52" fill="#ff0000"/>
<polygon points="668.49,358.98 676.22,340.32 671.23,338.25 688.30,324.22 690.45,346.21 685.46,344.15 677.73,362.81" fill="#ff0000"/>
<polygon points="671.56,352.98 685.84,338.70 682.02,334.88 703.16,328.44 696.73,349.59 692.91,345.77 678.63,360.05" fill="#ff0000"/>
<polygon points="680.09,343.51 694.38,329.23 690.56,325.41 711.70,318.98 705.26,340.12 701.45,336.30 687.16,350.59" fill="#ff0000"/>
<polygon points="694.10,340.05 701.83,321.39 696.84,319.32 713.91,305.28 716.05,327.28 711.07,325.21 703.34,343.88" fill="#ff0000"/>
<polygon points="709.98,324.57 709.98,304.37 704.58,304.37 714.98,284.87 725.38,304.37 719.98,304.37 719.98,324.57" fill="#ff0000"/>
<polygon points="726.63,315.48 718.90,296.81 713.91,298.88 716.06,276.88 733.13,290.92 728.14,292.99 735.87,311.65" fill="#ffff00"/>
<polygon points="735.16,315.48 727.43,296.81 722.45,298.88 724.59,276.88 741.66,290.92 736.67,292.99 744.40,311.65" fill="#ffff00"/>
<polygon points="743.70,315.48 735.97,296.81 730.98,298.88 733.13,276.88 750.20,290.92 745.21,292.99 752.94,311.65" fill="#ffff00"/>
<polygon points="744.13,324.57 744.13,304.37 738.73,304.37 749.13,284.87 759.53,304.37 754.13,304.37 754.13,324.57" fill="#ff0000"/>
<polygon points="752.66,324.57 752.66,304.37 747.26,304.37 757.66,284.87 768.06,304.37 762.66,304.37 762.66,324.57" fill="#ff0000"/>
<polygon points="761.20,315.10 761.20,294.90 755.80,294.90 766.20,275.40 776.60,294.90 771.20,294.90 771.20,315.10" fill="#ffff00"/>
<polygon points="769.73,315.10 769.73,294.90 764.33,294.90 774.73,275.40 785.13,294.90 779.73,294.90 779.73,315.10" fill="#ffff00"/>
<polygon points="778.27,315.10 778.27,294.90 772.87,294.90 783.27,275.40 793.67,294.90 788.27,294.90 788.27,315.10" fill="#ffff00"/>
<polygon points="786.80,315.10 786.80,294.90 781.40,294.90 791.80,275.40 802.20,294.90 796.80,294.90 796.80,315.10" fill="#ffff00"/>
<polygon points="795.34,315.10 795.34,294.90 789.94,294.90 800.34,275.40 810.74,294.90 805.34,294.90 805.34,315.10" fill="#ffff00"/>
<polygon points="803.88,315.10 803.88,294.90 798.48,294.90 808.88,275.40 819.28,294.90 813.88,294.90 813.88,315.10" fill="#ffff00"/>
<polygon points="812.41,315.10 812.41,294.90 807.01,294.90 817.41,275.40 827.81,294.90 822.41,294.90 822.41,315.10" fill="#ffff00"/>
<polygon points="820.95,324.57 820.95,304.37 815.55,304.37 825.95,284.87 836.35,304.37 830.95,304.37 830.95,324.57" fill="#ff0000"/>
<polygon points="829.48,315.10 829.48,294.90 824.08,294.90 834.48,275.40 844.88,294.90 839.48,294.90 839.48,315.10" fill="#ffff00"/>
<polygon points="838.02,305.63 838.02,285.43 832.62,285.43 843.02,265.93 853.42,285.43 848.02,285.43 848.02,305.63" fill="#ffff00"/>
<polygon points="846.55,305.63 846.55,285.43 841.15,285.43 851.55,265.93 861.95,285.43 856.55,285.43 856.55,305.63" fill="#ffff00"/>
<polygon points="855.09,296.17 855.09,275.97 849.69,275.97 860.09,256.47 870.49,275.97 865.09,275.97 865.09,296.17" fill="#ffff00"/>
<polygon points="863.63,305.63 863.63,285.43 858.23,285.43 868.63,265.93 879.03,285.43 873.63,285.43 873.63,305.63" fill="#ffff00"/>
<polygon points="872.16,305.63 872.16,285.43 866.76,285.43 877.16,265.93 887.56,285.43 882.16,285.43 882.16,305.63" fill="#ffff00"/>
<polygon points="880.70,315.10 880.70,294.90 875.30,294.90 885.70,275.40 896.10,294.90 890.70,294.90 890.70,315.10" fill="#ffff00"/>
<polygon points="889.23,315.10 889.23,294.90 883.83,294.90 894.23,275.40 904.63,294.90 899.23,294.90 899.23,315.10" fill="#ffff00"/>
<polygon points="897.77,305.63 897.77,285.43 892.37,285.43 902.77,265.93 913.17,285.43 907.77,285.43 907.77,305.63" fill="#ffff00"/>
<polygon points="906.30,296.17 906.30,275.97 900.90,275.97 911.30,256.47 921.70,275.97 916.30,275.97 916.30,296.17" fill="#ffff00"/>
<polygon points="914.84,305.63 914.84,285.43 909.44,285.43 919.84,265.93 930.24,285.43 924.84,285.43 924.84,305.63" fill="#ffff00"/>
<polygon points="923.38,305.63 923.38,285.43 917.98,285.43 928.38,265.93 938.78,285.43 933.38,285.43 933.38,305.63" fill="#ffff00"/>
<polygon points="931.91,305.63 931.91,285.43 926.51,285.43 936.91,265.93 947.31,285.43 941.91,285.43 941.91,305.63" fill="#ffff00"/>
<polygon points="940.45,296.17 940.45,275.97 935.05,275.97 945.45,256.47 955.85,275.97 950.45,275.97 950.45,296.17" fill="#ffff00"/>
<polygon points="948.98,305.63 948.98,285.43 943.58,285.43 953.98,265.93 964.38,285.43 958.98,285.43 958.98,305.63" fill="#ffff00"/>
<polygon points="957.52,305.63 957.52,285.43 952.12,285.43 962.52,265.93 972.92,285.43 967.52,285.43 967.52,305.63" fill="#ffff00"/>
<polygon points="966.05,296.17 966.05,275.97 960.65,275.97 971.05,256.47 981.45,275.97 976.05,275.97 976.05,296.17" fill="#ffff00"/>
<polygon points="974.59,286.70 974.59,266.50 969.19,266.50 979.59,247.00 989.99,266.50 984.59,266.50 984.59,286.70" fill="#ffff00"/>
<polygon points="983.13,296.17 983.13,275.97 977.73,275.97 988.13,256.47 998.53,275.97 993.13,275.97 993.13,296.17" fill="#ffff00"/>
<polygon points="991.66,296.17 991.66,275.97 986.26,275.97 996.66,256.47 1007.06,275.97 1001.66,275.97 1001.66,296.17" fill="#ffff00"/>
<polygon points="1008.31,296.54 1000.58,277.88 995.59,279.95 997.73,257.95 1014.80,271.99 1009.82,274.05 1017.55,292.72" fill="#ffff00"/>
<polygon points="1016.84,306.01 1009.11,287.35 1004.12,289.41 1006.27,267.42 1023.34,281.45 1018.35,283.52 1026.08,302.18" fill="#ffff00"/></g>
<polyline points="66.27,361.17 74.80,351.70 83.34,342.23 91.88,332.77 100.41,332.77 108.95,323.30 117.48,294.90 126.02,219.17 134.55,190.77 143.09,171.83 151.62,181.30 160.16,228.63 168.70,275.97 177.23,323.30 185.77,342.23 194.30,351.70 202.84,351.70 211.38,351.70 219.91,323.30 228.45,304.37 236.98,304.37 245.52,294.90 254.05,285.43 262.59,275.97 271.12,275.97 279.66,266.50 288.20,257.03 296.73,247.57 305.27,257.03 313.80,266.50 322.34,285.43 330.88,294.90 339.41,304.37 347.95,313.83 356.48,304.37 365.02,304.37 373.55,294.90 382.09,294.90 390.63,285.43 399.16,285.43 407.70,294.90 416.23,304.37 424.77,294.90 433.30,285.43 441.84,285.43 450.38,285.43 458.91,285.43 467.45,285.43 475.98,294.90 484.52,294.90 493.05,304.37 501.59,313.83 510.13,332.77 518.66,351.70 527.20,351.70 535.73,342.23 544.27,351.70 552.80,361.17 561.34,361.17 569.88,361.17 578.41,332.77 586.95,304.37 595.48,304.37 604.02,304.37 612.55,313.83 621.09,323.30 629.62,323.30 638.16,323.30 646.70,332.77 655.23,332.77 663.77,342.23 672.30,332.77 680.84,342.23 689.38,342.23 697.91,332.77 706.45,323.30 714.98,304.37 723.52,294.90 732.05,294.90 740.59,294.90 749.13,304.37 757.66,304.37 766.20,294.90 774.73,294.90 783.27,294.90 791.80,294.90 800.34,294.90 808.88,294.90 817.41,294.90 825.95,304.37 834.48,294.90 843.02,285.43 851.55,285.43 860.09,275.97 868.63,285.43 877.16,285.43 885.70,294.90 894.23,294.90 902.77,285.43 911.30,275.97 919.84,285.43 928.38,285.43 936.91,285.43 945.45,275.97 953.98,285.43 962.52,285.43 971.05,275.97 979.59,266.50 988.13,275.97 996.66,275.97 1005.20,275.97 1013.73,285.43" fill="none" stroke="#808080" stroke-width="1"/>
<g stroke="#15152a" stroke-width="0.9" stroke-linejoin="miter"><polygon points="86.47,366.17 66.27,366.17 66.27,371.57 46.77,361.17 66.27,350.77 66.27,356.17 86.47,356.17" fill="#ff0000"/>
<polygon points="92.62,340.95 78.34,355.24 82.16,359.05 61.01,365.49 67.45,344.35 71.27,348.16 85.55,333.88" fill="#ff0000"/>
<polygon points="101.16,331.49 86.87,345.77 90.69,349.59 69.55,356.02 75.99,334.88 79.80,338.70 94.09,324.41" fill="#ff0000"/>
<polygon points="104.22,316.02 96.49,334.68 101.48,336.75 84.41,350.78 82.27,328.79 87.26,330.85 94.99,312.19" fill="#ff0000"/>
<polygon points="112.76,316.02 105.03,334.68 110.02,336.75 92.95,350.78 90.80,328.79 95.79,330.85 103.52,312.19" fill="#ff0000"/>
<polygon points="121.30,306.55 113.57,325.21 118.55,327.28 101.48,341.32 99.34,319.32 104.33,321.39 112.06,302.72" fill="#ff0000"/>
<polygon points="122.48,274.70 122.48,294.90 127.88,294.90 117.48,314.40 107.08,294.90 112.48,294.90 112.48,274.70" fill="#ffff00"/>
<polygon points="122.91,198.59 130.64,217.25 135.63,215.19 133.48,237.18 116.41,223.15 121.40,221.08 113.67,202.42" fill="#00ff00"/>
<polygon points="131.44,170.19 139.17,188.85 144.16,186.79 142.02,208.78 124.95,194.75 129.93,192.68 122.20,174.02" fill="#00ff00"/>
<polygon points="132.34,154.01 146.62,168.30 150.44,164.48 156.88,185.62 135.74,179.19 139.55,175.37 125.27,161.09" fill="#00ff00"/>
<polygon points="140.88,163.48 155.16,177.76 158.98,173.95 165.41,195.09 144.27,188.65 148.09,184.84 133.81,170.55" fill="#00ff00"/>
<polygon points="143.41,216.28 162.07,224.01 164.14,219.02 178.18,236.10 156.18,238.24 158.25,233.25 139.58,225.52" fill="#00ff00"/>
<polygon points="148.50,270.97 168.70,270.97 168.70,265.57 188.20,275.97 168.70,286.37 168.70,280.97 148.50,280.97" fill="#ffff00"/>
<polygon points="156.66,326.41 175.32,318.68 173.25,313.69 195.25,315.84 181.21,332.91 179.15,327.92 160.48,335.65" fill="#ff0000"/>
<polygon points="167.95,352.98 182.23,338.70 178.41,334.88 199.56,328.44 193.12,349.59 189.30,345.77 175.02,360.05" fill="#ff0000"/>
<polygon points="176.48,362.45 190.77,348.16 186.95,344.35 208.09,337.91 201.66,359.05 197.84,355.24 183.56,369.52" fill="#ff0000"/>
<polygon points="185.02,362.45 199.30,348.16 195.49,344.35 216.63,337.91 210.19,359.05 206.37,355.24 192.09,369.52" fill="#ff0000"/>
<polygon points="190.80,354.81 209.46,347.08 207.40,342.09 229.39,344.24 215.35,361.31 213.29,356.32 194.63,364.05" fill="#ff0000"/>
<polygon points="199.33,326.41 218.00,318.68 215.93,313.69 237.93,315.84 223.89,332.91 221.82,327.92 203.16,335.65" fill="#ff0000"/>
<polygon points="207.87,307.48 226.53,299.75 224.47,294.76 246.46,296.90 232.43,313.98 230.36,308.99 211.70,316.72" fill="#ff0000"/>
<polygon points="216.78,299.37 236.98,299.37 236.98,293.97 256.48,304.37 236.98,314.77 236.98,309.37 216.78,309.37" fill="#ff0000"/>
<polygon points="225.32,289.90 245.52,289.90 245.52,284.50 265.02,294.90 245.52,305.30 245.52,299.90 225.32,299.90" fill="#ffff00"/>
<polygon points="233.85,280.43 254.05,280.43 254.05,275.03 273.55,285.43 254.05,295.83 254.05,290.43 233.85,290.43" fill="#ffff00"/>
<polygon points="242.39,270.97 262.59,270.97 262.59,265.57 282.09,275.97 262.59,286.37 262.59,280.97 242.39,280.97" fill="#ffff00"/>
<polygon points="250.93,270.97 271.12,270.97 271.12,265.57 290.62,275.97 271.12,286.37 271.12,280.97 250.93,280.97" fill="#ffff00"/>
<polygon points="259.08,269.61 277.75,261.88 275.68,256.89 297.68,259.04 283.64,276.11 281.57,271.12 262.91,278.85" fill="#ffff00"/>
<polygon points="267.62,260.14 286.28,252.41 284.22,247.42 306.21,249.57 292.18,266.64 290.11,261.65 271.45,269.38" fill="#ffff00"/>
<polygon points="276.16,250.68 294.82,242.95 292.75,237.96 314.75,240.10 300.71,257.18 298.65,252.19 279.98,259.92" fill="#ffff00"/>
<polygon points="287.45,267.78 301.73,253.50 297.91,249.68 319.06,243.24 312.62,264.39 308.80,260.57 294.52,274.85" fill="#ffff00"/>
<polygon points="301.45,283.25 309.18,264.59 304.20,262.52 321.27,248.48 323.41,270.48 318.42,268.41 310.69,287.08" fill="#ffff00"/>
<polygon points="309.99,302.18 317.72,283.52 312.73,281.45 329.80,267.42 331.95,289.41 326.96,287.35 319.23,306.01" fill="#ffff00"/>
<polygon points="318.53,311.65 326.26,292.99 321.27,290.92 338.34,276.88 340.48,298.88 335.49,296.81 327.76,315.48" fill="#ffff00"/>
<polygon points="327.06,321.12 334.79,302.45 329.80,300.39 346.87,286.35 349.02,308.35 344.03,306.28 336.30,324.94" fill="#ff0000"/>
<polygon points="335.60,330.58 343.33,311.92 338.34,309.85 355.41,295.82 357.55,317.81 352.57,315.75 344.84,334.41" fill="#ff0000"/>
<polygon points="351.48,324.57 351.48,304.37 346.08,304.37 356.48,284.87 366.88,304.37 361.48,304.37 361.48,324.57" fill="#ff0000"/>
<polygon points="360.02,324.57 360.02,304.37 354.62,304.37 365.02,284.87 375.42,304.37 370.02,304.37 370.02,324.57" fill="#ff0000"/>
<polygon points="368.55,315.10 368.55,294.90 363.15,294.90 373.55,275.40 383.95,294.90 378.55,294.90 378.55,315.10" fill="#ffff00"/>
<polygon points="377.09,315.10 377.09,294.90 371.69,294.90 382.09,275.40 392.49,294.90 387.09,294.90 387.09,315.10" fill="#ffff00"/>
<polygon points="385.63,305.63 385.63,285.43 380.23,285.43 390.63,265.93 401.03,285.43 395.63,285.43 395.63,305.63" fill="#ffff00"/>
<polygon points="394.16,305.63 394.16,285.43 388.76,285.43 399.16,265.93 409.56,285.43 404.16,285.43 404.16,305.63" fill="#ffff00"/>
<polygon points="402.70,315.10 402.70,294.90 397.30,294.90 407.70,275.40 418.10,294.90 412.70,294.90 412.70,315.10" fill="#ffff00"/>
<polygon points="411.23,324.57 411.23,304.37 405.83,304.37 416.23,284.87 426.63,304.37 421.23,304.37 421.23,324.57" fill="#ff0000"/>
<polygon points="427.88,315.48 420.15,296.81 415.16,298.88 417.31,276.88 434.38,290.92 429.39,292.99 437.12,311.65" fill="#ffff00"/>
<polygon points="436.41,306.01 428.68,287.35 423.70,289.41 425.84,267.42 442.91,281.45 437.92,283.52 445.65,302.18" fill="#ffff00"/>
<polygon points="444.95,306.01 437.22,287.35 432.23,289.41 434.38,267.42 451.45,281.45 446.46,283.52 454.19,302.18" fill="#ffff00"/>
<polygon points="453.49,306.01 445.76,287.35 440.77,289.41 442.91,267.42 459.98,281.45 454.99,283.52 462.72,302.18" fill="#ffff00"/>
<polygon points="462.02,306.01 454.29,287.35 449.30,289.41 451.45,267.42 468.52,281.45 463.53,283.52 471.26,302.18" fill="#ffff00"/>
<polygon points="470.56,306.01 462.83,287.35 457.84,289.41 459.98,267.42 477.05,281.45 472.07,283.52 479.80,302.18" fill="#ffff00"/>
<polygon points="479.09,315.48 471.36,296.81 466.37,298.88 468.52,276.88 485.59,290.92 480.60,292.99 488.33,311.65" fill="#ffff00"/>
<polygon points="487.63,315.48 479.90,296.81 474.91,298.88 477.06,276.88 494.13,290.92 489.14,292.99 496.87,311.65" fill="#ffff00"/>
<polygon points="503.80,322.19 489.52,307.90 485.70,311.72 479.26,290.58 500.41,297.01 496.59,300.83 510.87,315.11" fill="#ff0000"/>
<polygon points="512.34,331.65 498.05,317.37 494.24,321.19 487.80,300.04 508.94,306.48 505.12,310.30 519.41,324.58" fill="#ff0000"/>
<polygon points="520.87,350.59 506.59,336.30 502.77,340.12 496.34,318.98 517.48,325.41 513.66,329.23 527.94,343.51" fill="#ff0000"/>
<polygon points="529.41,369.52 515.13,355.24 511.31,359.05 504.87,337.91 526.01,344.35 522.20,348.16 536.48,362.45" fill="#ff0000"/>
<polygon points="547.40,356.70 527.20,356.70 527.20,362.10 507.70,351.70 527.20,341.30 527.20,346.70 547.40,346.70" fill="#ff0000"/>
<polygon points="548.08,325.48 540.35,344.15 545.34,346.21 528.27,360.25 526.12,338.25 531.11,340.32 538.84,321.66" fill="#ff0000"/>
<polygon points="556.62,334.95 548.89,353.61 553.88,355.68 536.81,369.72 534.66,347.72 539.65,349.79 547.38,331.12" fill="#ff0000"/>
<polygon points="557.80,340.97 557.80,361.17 563.20,361.17 552.80,380.67 542.40,361.17 547.80,361.17 547.80,340.97" fill="#ff0000"/>
<polygon points="558.23,340.59 565.96,359.25 570.95,357.19 568.80,379.18 551.73,365.15 556.72,363.08 548.99,344.42" fill="#ff0000"/>
<polygon points="559.13,343.35 573.41,357.63 577.23,353.81 583.66,374.96 562.52,368.52 566.34,364.70 552.06,350.42" fill="#ff0000"/>
<polygon points="560.59,343.51 574.88,329.23 571.06,325.41 592.20,318.98 585.76,340.12 581.95,336.30 567.66,350.59" fill="#ff0000"/>
<polygon points="590.06,324.94 582.33,306.28 577.34,308.35 579.48,286.35 596.55,300.39 591.57,302.45 599.30,321.12" fill="#ff0000"/>
<polygon points="598.59,324.94 590.86,306.28 585.87,308.35 588.02,286.35 605.09,300.39 600.10,302.45 607.83,321.12" fill="#ff0000"/>
<polygon points="607.13,324.94 599.40,306.28 594.41,308.35 596.56,286.35 613.63,300.39 608.64,302.45 616.37,321.12" fill="#ff0000"/>
<polygon points="615.66,334.41 607.93,315.75 602.95,317.81 605.09,295.82 622.16,309.85 617.17,311.92 624.90,330.58" fill="#ff0000"/>
<polygon points="624.20,343.88 616.47,325.21 611.48,327.28 613.63,305.28 630.70,319.32 625.71,321.39 633.44,340.05" fill="#ff0000"/>
<polygon points="632.74,343.88 625.01,325.21 620.02,327.28 622.16,305.28 639.23,319.32 634.24,321.39 641.97,340.05" fill="#ff0000"/>
<polygon points="641.27,343.88 633.54,325.21 628.55,327.28 630.70,305.28 647.77,319.32 642.78,321.39 650.51,340.05" fill="#ff0000"/>
<polygon points="649.81,353.34 642.08,334.68 637.09,336.75 639.23,314.75 656.30,328.79 651.32,330.85 659.05,349.52" fill="#ff0000"/>
<polygon points="658.34,353.34 650.61,334.68 645.62,336.75 647.77,314.75 664.84,328.79 659.85,330.85 667.58,349.52" fill="#ff0000"/>
<polygon points="666.88,362.81 659.15,344.15 654.16,346.21 656.31,324.22 673.38,338.25 668.39,340.32 676.12,358.98" fill="#ff0000"/>
<polygon points="675.41,353.34 667.68,334.68 662.70,336.75 664.84,314.75 681.91,328.79 676.92,330.85 684.65,349.52" fill="#ff0000"/>
<polygon points="668.49,358.98 676.22,340.32 671.23,338.25 688.30,324.22 690.45,346.21 685.46,344.15 677.73,362.81" fill="#ff0000"/>
<polygon points="671.56,352.98 685.84,338.70 682.02,334.88 703.16,328.44 696.73,349.59 692.91,345.77 678.63,360.05" fill="#ff0000"/>
<polygon points="680.09,343.51 694.38,329.23 690.56,325.41 711.70,318.98 705.26,340.12 701.45,336.30 687.16,350.59" fill="#ff0000"/>
<polygon points="694.10,340.05 701.83,321.39 696.84,319.32 713.91,305.28 716.05,327.28 711.07,325.21 703.34,343.88" fill="#ff0000"/>
<polygon points="709.98,324.57 709.98,304.37 704.58,304.37 714.98,284.87 725.38,304.37 719.98,304.37 719.98,324.57" fill="#ff0000"/>
<polygon points="726.63,315.48 718.90,296.81 713.91,298.88 716.06,276.88 733.13,290.92 728.14,292.99 735.87,311.65" fill="#ffff00"/>
<polygon points="735.16,315.48 727.43,296.81 722.45,298.88 724.59,276.88 741.66,290.92 736.67,292.99 744.40,311.65" fill="#ffff00"/>
<polygon points="743.70,315.48 735.97,296.81 730.98,298.88 733.13,276.88 750.20,290.92 745.21,292.99 752.94,311.65" fill="#ffff00"/>
<polygon points="744.13,324.57 744.13,304.37 738.73,304.37 749.13,284.87 759.53,304.37 754.13,304.37 754.13,324.57" fill="#ff0000"/>
<polygon points="752.66,324.57 752.66,304.37 747.26,304.37 757.66,284.87 768.06,304.37 762.66,304.37 762.66,324.57" fill="#ff0000"/>
<polygon points="761.20,315.10 761.20,294.90 755.80,294.90 766.20,275.40 776.60,294.90 771.20,294.90 771.20,315.10" fill="#ffff00"/>
<polygon points="769.73,315.10 769.73,294.90 764.33,294.90 774.73,275.40 785.13,294.90 779.73,294.90 779.73,315.10" fill="#ffff00"/>
<polygon points="778.27,315.10 778.27,294.90 772.87,294.90 783.27,275.40 793.67,294.90 788.27,294.90 788.27,315.10" fill="#ffff00"/>
<polygon points="786.80,315.10 786.80,294.90 781.40,294.90 791.80,275.40 802.20,294.90 796.80,294.90 796.80,315.10" fill="#ffff00"/>
<polygon points="795.34,315.10 795.34,294.90 789.94,294.90 800.34,275.40 810.74,294.90 805.34,294.90 805.34,315.10" fill="#ffff00"/>
<polygon points="803.88,315.10 803.88,294.90 798.48,294.90 808.88,275.40 819.28,294.90 813.88,294.90 813.88,315.10" fill="#ffff00"/>
<polygon points="812.41,315.10 812.41,294.90 807.01,294.90 817.41,275.40 827.81,294.90 822.41,294.90 822.41,315.10" fill="#ffff00"/>
<polygon points="820.95,324.57 820.95,304.37 815.55,304.37 825.95,284.87 836.35,304.37 830.95,304.37 830.95,324.57" fill="#ff0000"/>
<polygon points="829.48,315.10 829.48,294.90 824.08,294.90 834.48,275.40 844.88,294.90 839.48,294.90 839.48,315.10" fill="#ffff00"/>
<polygon points="838.02,305.63 838.02,285.43 832.62,285.43 843.02,265.93 853.42,285.43 848.02,285.43 848.02,305.63" fill="#ffff00"/>
<polygon points="846.55,305.63 846.55,285.43 841.15,285.43 851.55,265.93 861.95,285.43 856.55,285.43 856.55,305.63" fill="#ffff00"/>
<polygon points="855.09,296.17 855.09,275.97 849.69,275.97 860.09,256.47 870.49,275.97 865.09,275.97 865.09,296.17" fill="#ffff00"/>
<polygon points="863.63,305.63 863.63,285.43 858.23,285.43 868.63,265.93 879.03,285.43 873.63,285.43 873.63,305.63" fill="#ffff00"/>
<polygon points="872.16,305.63 872.16,285.43 866.76,285.43 877.16,265.93 887.56,285.43 882.16,285.43 882.16,305.63" fill="#ffff00"/>
<polygon points="880.70,315.10 880.70,294.90 875.30,294.90 885.70,275.40 896.10,294.90 890.70,294.90 890.70,315.10" fill="#ffff00"/>
<polygon points="889.23,315.10 889.23,294.90 883.83,294.90 894.23,275.40 904.63,294.90 899.23,294.90 899.23,315.10" fill="#ffff00"/>
<polygon points="897.77,305.63 897.77,285.43 892.37,285.43 902.77,265.93 913.17,285.43 907.77,285.43 907.77,305.63" fill="#ffff00"/>
<polygon points="906.30,296.17 906.30,275.97 900.90,275.97 911.30,256.47 921.70,275.97 916.30,275.97 916.30,296.17" fill="#ffff00"/>
<polygon points="914.84,305.63 914.84,285.43 909.44,285.43 919.84,265.93 930.24,285.43 924.84,285.43 924.84,305.63" fill="#ffff00"/>
<polygon points="923.38,305.63 923.38,285.43 917.98,285.43 928.38,265.93 938.78,285.43 933.38,285.43 933.38,305.63" fill="#ffff00"/>
<polygon points="931.91,305.63 931.91,285.43 926.51,285.43 936.91,265.93 947.31,285.43 941.91,285.43 941.91,305.63" fill="#ffff00"/>
<polygon points="940.45,296.17 940.45,275.97 935.05,275.97 945.45,256.47 955.85,275.97 950.45,275.97 950.45,296.17" fill="#ffff00"/>
<polygon points="948.98,305.63 948.98,285.43 943.58,285.43 953.98,265.93 964.38,285.43 958.98,285.43 958.98,305.63" fill="#ffff00"/>
<polygon points="957.52,305.63 957.52,285.43 952.12,285.43 962.52,265.93 972.92,285.43 967.52,285.43 967.52,305.63" fill="#ffff00"/>
<polygon points="966.05,296.17 966.05,275.97 960.65,275.97 971.05,256.47 981.45,275.97 976.05,275.97 976.05,296.17" fill="#ffff00"/>
<polygon points="974.59,286.70 974.59,266.50 969.19,266.50 979.59,247.00 989.99,266.50 984.59,266.50 984.59,286.70" fill="#ffff00"/>
<polygon points="983.13,296.17 983.13,275.97 977.73,275.97 988.13,256.47 998.53,275.97 993.13,275.97 993.13,296.17" fill="#ffff00"/>
<polygon points="991.66,296.17 991.66,275.97 986.26,275.97 996.66,256.47 1007.06,275.97 1001.66,275.97 1001.66,296.17" fill="#ffff00"/>
<polygon points="1008.31,296.54 1000.58,277.88 995.59,279.95 997.73,257.95 1014.80,271.99 1009.82,274.05 1017.55,292.72" fill="#ffff00"/>
<polygon points="1016.84,306.01 1009.11,287.35 1004.12,289.41 1006.27,267.42 1023.34,281.45 1018.35,283.52 1026.08,302.18" fill="#ffff00"/></g>
</svg>
</body></html>
